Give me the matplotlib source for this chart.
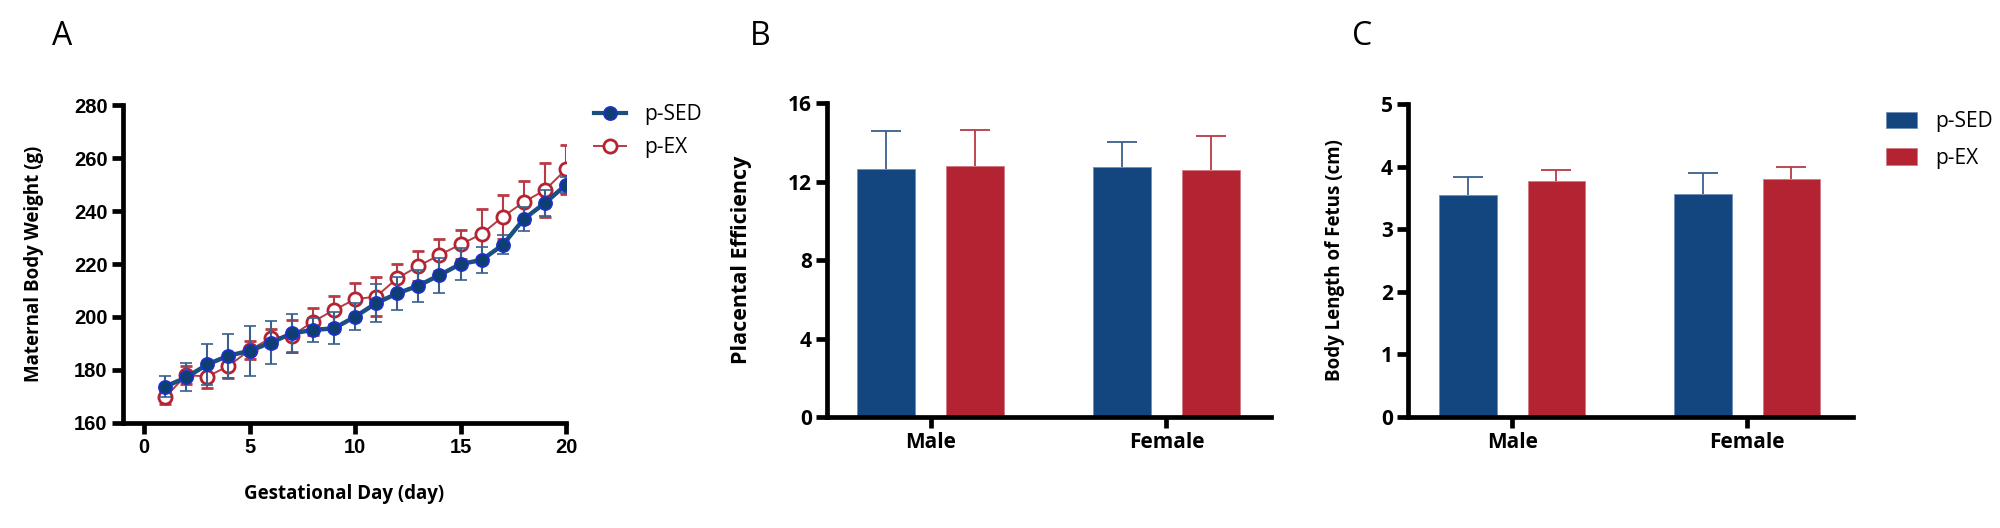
import numpy as np
import matplotlib
matplotlib.use("Agg")
import matplotlib.pyplot as plt
from matplotlib.patches import Patch
from matplotlib.lines import Line2D

# ---- data ----
days = np.arange(1, 21)
sed_mean = [173.7, 177.2, 182.1, 185.4, 187.2, 190.3, 193.8, 195.1, 195.7, 200.1,
            205.2, 208.9, 211.8, 215.8, 220.0, 221.5, 227.2, 237.0, 243.0, 249.9]
sed_sd = [4.0, 5.3, 7.7, 8.3, 9.4, 8.0, 7.3, 4.7, 6.0, 5.0,
          7.2, 6.3, 6.0, 6.6, 6.0, 5.0, 3.6, 4.4, 5.0, 3.0]
ex_mean = [169.7, 178.1, 177.5, 181.5, 187.5, 192.0, 192.9, 198.2, 202.6, 206.7,
           207.7, 214.6, 219.2, 223.4, 227.4, 231.3, 237.8, 243.4, 247.9, 255.7]
ex_sd = [2.5, 3.5, 4.4, 4.5, 3.5, 3.3, 6.0, 5.0, 5.4, 6.0,
         7.5, 5.4, 5.8, 6.0, 5.6, 9.3, 8.4, 8.0, 10.3, 9.2]

sexes = ['Male', 'Female']
pe_sed = [12.65, 12.75]
pe_sed_err = [1.9, 1.25]
pe_ex = [12.8, 12.57]
pe_ex_err = [1.8, 1.76]

bl_sed = [3.55, 3.57]
bl_sed_err = [0.29, 0.33]
bl_ex = [3.77, 3.81]
bl_ex_err = [0.17, 0.18]

groups = ['p-SED', 'p-EX']

# ---- style ----
BLUE = '#13467F'
RED = '#B42332'
BLUE_ERR = '#3A5F8C'
RED_ERR = '#B83A44'
SPINE_W = 3.4

tick_font = dict(family='Liberation Sans', weight='bold', size=14.5)
label_font = dict(family='Open Sans', weight='bold', size=13.5)
bar_tick_font = dict(family='Open Sans', weight='bold', size=15)

fig = plt.figure(figsize=(20, 5.28), dpi=100)


def style_axes(ax):
    for s in ['top', 'right']:
        ax.spines[s].set_visible(False)
    for s in ['left', 'bottom']:
        ax.spines[s].set_linewidth(SPINE_W)
    ax.tick_params(width=SPINE_W, length=8, direction='out', pad=3)


# ---- panel A ----
axA = fig.add_axes([0.0615, 0.199, 0.2215, 0.602])
axA.errorbar(days, sed_mean, yerr=sed_sd, color='#1B4F80', lw=3.2, marker='o', ms=9.5,
             mfc='#0E3F72', mec='#1F2FD0', mew=1.2, ecolor=BLUE_ERR, elinewidth=1.5,
             capsize=4, capthick=1.5, label='p-SED', zorder=3)
axA.errorbar(days, ex_mean, yerr=ex_sd, color=RED_ERR, lw=1.4, marker='o', ms=9.5,
             mfc='white', mec=RED, mew=2.0, ecolor=RED_ERR, elinewidth=1.5,
             capsize=4, capthick=1.5, label='p-EX', zorder=2)
axA.set_xlim(-1, 20)
axA.set_ylim(160, 280)
axA.set_xticks([0, 5, 10, 15, 20])
axA.set_yticks(range(160, 281, 20))
style_axes(axA)
for lab in axA.get_xticklabels() + axA.get_yticklabels():
    lab.set(**tick_font)
axA.set_xlabel('Gestational Day (day)', labelpad=19, **label_font)
axA.set_ylabel('Maternal Body Weight (g)', labelpad=22, **label_font)

legA = [Line2D([0], [0], color='#1B4F80', lw=3, marker='o', ms=9.5, mfc='#0E3F72',
               mec='#1F2FD0', mew=1.2),
        Line2D([0], [0], color=RED_ERR, lw=1.4, marker='o', ms=9.5, mfc='white',
               mec=RED, mew=2.0)]
axA.legend(legA, groups, loc='upper left', bbox_to_anchor=(0.293, 0.818),
           bbox_transform=fig.transFigure, frameon=False, handlelength=1.5,
           handletextpad=0.9, labelspacing=0.55, borderaxespad=0,
           prop=dict(family='Open Sans', size=15))


def bar_panel(rect, sed, sed_err, ex, ex_err, ylim, yticks, ylabel, xlim):
    ax = fig.add_axes(rect)
    x = np.arange(len(sexes))
    w = 0.246
    off = 0.189
    ax.bar(x - off, sed, w, color=BLUE, edgecolor='#6F8DB5', lw=0.6, zorder=2)
    ax.bar(x + off, ex, w, color=RED, edgecolor='#CF7A82', lw=0.6, zorder=2)
    for xs, vals, errs, col in [(x - off, sed, sed_err, BLUE_ERR),
                                (x + off, ex, ex_err, RED_ERR)]:
        eb = ax.errorbar(xs, vals, yerr=[np.zeros(len(vals)), errs], fmt='none',
                         ecolor=col, elinewidth=1.3, capsize=10.5, capthick=1.3,
                         zorder=1)
        # only keep the upper caps
        eb[1][0].set_visible(False)
    ax.set_xlim(*xlim)
    ax.set_ylim(*ylim)
    ax.set_yticks(yticks)
    ax.set_xticks(x)
    ax.set_xticklabels(sexes)
    style_axes(ax)
    for lab in ax.get_xticklabels() + ax.get_yticklabels():
        lab.set(**bar_tick_font)
    ax.set_ylabel(ylabel, labelpad=26, **label_font)
    return ax


axB = bar_panel([0.4135, 0.2102, 0.222, 0.5947], pe_sed, pe_sed_err, pe_ex, pe_ex_err,
                (0, 16), [0, 4, 8, 12, 16], 'Placental Efficiency', (-0.439, 1.443))
axB.yaxis.label.set_size(15.5)

axC = bar_panel([0.704, 0.2102, 0.2225, 0.5928], bl_sed, bl_sed_err, bl_ex, bl_ex_err,
                (0, 5), [0, 1, 2, 3, 4, 5], 'Body Length of Fetus (cm)', (-0.443, 1.451))

legC = [Patch(facecolor=BLUE, edgecolor='#6F8DB5', lw=0.6),
        Patch(facecolor=RED, edgecolor='#CF7A82', lw=0.6)]
axC.legend(legC, groups, loc='upper left', bbox_to_anchor=(0.939, 0.805),
           bbox_transform=fig.transFigure, frameon=False, handlelength=1.45,
           handleheight=0.85, handletextpad=0.9, labelspacing=0.75, borderaxespad=0,
           prop=dict(family='Open Sans', size=15))

# panel letters
for x, letter in [(0.031, 'A'), (0.38, 'B'), (0.681, 'C')]:
    fig.text(x, 0.93, letter, family='Open Sans', size=23, ha='center', va='center')

fig.savefig('out.png', dpi=100)
